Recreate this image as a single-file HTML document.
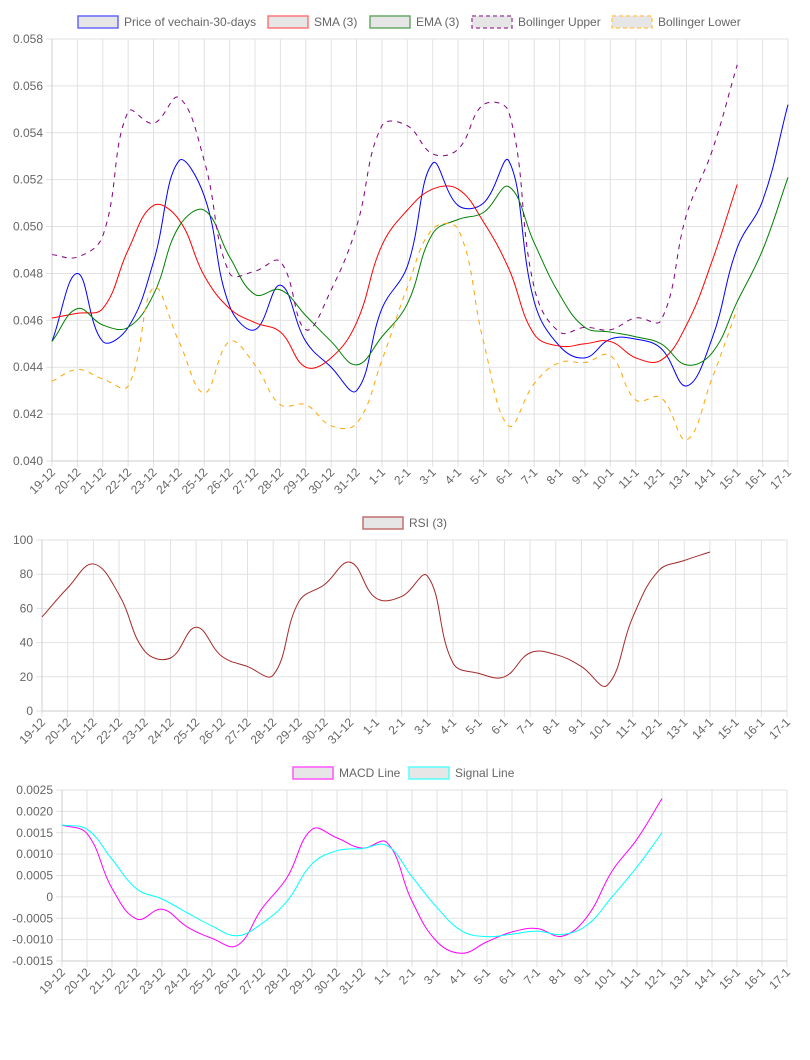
<!DOCTYPE html>
<html><head><meta charset="utf-8"><style>
body{margin:0;background:#fff;font-family:"Liberation Sans",sans-serif}
svg{display:block}
</style></head><body>
<svg id="svg" width="810" height="1060" xmlns="http://www.w3.org/2000/svg"></svg>
<script>
const categories=["19-12","20-12","21-12","22-12","23-12","24-12","25-12","26-12","27-12","28-12","29-12","30-12","31-12","1-1","2-1","3-1","4-1","5-1","6-1","7-1","8-1","9-1","10-1","11-1","12-1","13-1","14-1","15-1","16-1","17-1"];
const priceValues=[0.0451,0.0480,0.0451,0.0457,0.0485,0.0528,0.0513,0.0466,0.0456,0.0475,0.0451,0.0440,0.0430,0.0465,0.0483,0.0527,0.0509,0.0510,0.0528,0.0468,0.0449,0.0444,0.0452,0.0452,0.0448,0.0432,0.0452,0.0491,0.0511,0.0552];
const smaValues=[0.0461,0.0463,0.0465,0.0490,0.0509,0.0503,0.0479,0.0465,0.0459,0.0455,0.0440,0.0444,0.0459,0.0492,0.0507,0.0516,0.0516,0.0502,0.0482,0.0454,0.0449,0.0450,0.0451,0.0444,0.0443,0.0458,0.0485,0.0518,null,null];
const emaValues=[0.0451,0.0465,0.0458,0.0457,0.0471,0.0500,0.0507,0.0487,0.0471,0.0473,0.0462,0.0451,0.0441,0.0453,0.0467,0.0497,0.0503,0.0506,0.0517,0.0493,0.0471,0.0457,0.0455,0.0453,0.0450,0.0441,0.0446,0.0468,0.0490,0.0521];
const upperValues=[0.0488,0.0487,0.0496,0.0549,0.0544,0.0555,0.0528,0.0480,0.0481,0.0485,0.0456,0.0473,0.0500,0.0543,0.0543,0.0531,0.0533,0.0552,0.0549,0.0474,0.0455,0.0457,0.0456,0.0461,0.0460,0.0505,0.0532,0.0569,null,null];
const lowerValues=[0.0434,0.0439,0.0435,0.0432,0.0474,0.0451,0.0429,0.0451,0.0441,0.0424,0.0424,0.0415,0.0416,0.0443,0.0474,0.0499,0.0499,0.0451,0.0415,0.0433,0.0442,0.0442,0.0445,0.0426,0.0427,0.0409,0.0435,0.0465,null,null];
const rsiValues=[55,72,86,68,35,31,49,32,26,21,64,74,87,66,67,79,28,22,20,34,33,26,15,55,82,88,93,null,null,null];
const macdValues=[0.00168,0.00148,0.00020,-0.00052,-0.00029,-0.00070,-0.00097,-0.00114,-0.00027,0.00045,0.00158,0.00138,0.00114,0.00127,-0.00010,-0.00105,-0.00132,-0.00105,-0.00082,-0.00074,-0.00092,-0.00047,0.00060,0.00135,0.00230];
const signalValues=[0.00168,0.00158,0.00088,0.00018,-0.00005,-0.00037,-0.00068,-0.00091,-0.00062,-0.00010,0.00077,0.00108,0.00113,0.00120,0.00047,-0.00025,-0.00080,-0.00093,-0.00087,-0.00080,-0.00088,-0.00066,0.00000,0.00070,0.00150];
const ticks1=["0.040","0.042","0.044","0.046","0.048","0.050","0.052","0.054","0.056","0.058"];
const ticks2=["0","20","40","60","80","100"];
const ticks3=["-0.0015","-0.0010","-0.0005","0","0.0005","0.0010","0.0015","0.0020","0.0025"];

const NS="http://www.w3.org/2000/svg";
const svg=document.getElementById('svg');
function mk(tag,attrs,parent){const e=document.createElementNS(NS,tag);for(const k in attrs)e.setAttribute(k,attrs[k]);(parent||svg).appendChild(e);return e;}

function splinePath(pts,t){
  const cps=pts.map((cur,i)=>{
    const prev=pts[Math.max(0,i-1)],next=pts[Math.min(pts.length-1,i+1)];
    const d01=Math.hypot(cur[0]-prev[0],cur[1]-prev[1]);
    const d12=Math.hypot(next[0]-cur[0],next[1]-cur[1]);
    let s01=d01/(d01+d12),s12=d12/(d01+d12);
    if(isNaN(s01))s01=0; if(isNaN(s12))s12=0;
    const fa=t*s01,fb=t*s12;
    return {p:[cur[0]-fa*(next[0]-prev[0]),cur[1]-fa*(next[1]-prev[1])],n:[cur[0]+fb*(next[0]-prev[0]),cur[1]+fb*(next[1]-prev[1])]};
  });
  let d=`M${pts[0][0]},${pts[0][1]}`;
  for(let i=0;i<pts.length-1;i++){
    const c1=cps[i].n,c2=cps[i+1].p,p2=pts[i+1];
    d+=` C${c1[0]},${c1[1]} ${c2[0]},${c2[1]} ${p2[0]},${p2[1]}`;
  }
  return d;
}

function chart(name,L,R,T,B,min,max,ticks,series){
  const g=mk('g',{});
  
  
  const xs=i=>L+(R-L)*i/(categories.length-1);
  const ys=v=>B-(v-min)/(max-min)*(B-T);
  ticks.forEach(t=>{const y=ys(parseFloat(t));
    const l=mk('line',{x1:L-6,x2:R,y1:y,y2:y,stroke:'#e2e2e2','stroke-width':1},g);
    
    
    const tx=mk('text',{x:L-9,y:y+4,'text-anchor':'end','font-size':12,fill:'#666'},g);
    tx.textContent=t;
    
    
  });
  categories.forEach((c,i)=>{const x=xs(i);
    const l=mk('line',{x1:x,x2:x,y1:T,y2:B+6,stroke:'#e2e2e2','stroke-width':1},g);
    
    
    const tx=mk('text',{x:0,y:0,'text-anchor':'end','font-size':12,fill:'#666',transform:`translate(${x+4},${B+12}) rotate(-45)`},g);
    tx.textContent=c;
    
    
  });
  mk('line',{x1:L,x2:L,y1:T,y2:B,stroke:'#ccc'},g);
  mk('line',{x1:L,x2:R,y1:B,y2:B,stroke:'#ccc'},g);
  series.forEach(s=>{
    const pts=[];s.data.forEach((v,i)=>{if(v!==null)pts.push([xs(i),ys(v)]);});
    const p=mk('path',{d:splinePath(pts,0.4),fill:'none',stroke:s.color,'stroke-width':1,'stroke-dasharray':s.dash||''},g);
    
    
  });
}
function legend(items,y){
  const g=mk('g',{});
  
  
  items.forEach(it=>{
    const r=mk('rect',{x:it.x,y:y-6,width:40,height:12,fill:'#e6e6e6',stroke:it.color,'stroke-width':1.5,'stroke-dasharray':it.dash||''},g);
    
    
    const t=mk('text',{x:it.x+46,y:y+4,'font-size':12,fill:'#666'},g);
    t.textContent=it.label;
    
    
  });
}
legend([{x:78,color:'#6666ff',label:'Price of vechain-30-days'},{x:268,color:'#ff7777',label:'SMA (3)'},{x:370,color:'#66aa66',label:'EMA (3)'},{x:472,color:'#aa55aa',label:'Bollinger Upper',dash:'4,3'},{x:612,color:'#ffcc66',label:'Bollinger Lower',dash:'4,3'}],22);
chart('price-chart',52,788,39,461,0.040,0.058,ticks1,[
 {name:'price-line',data:priceValues,color:'blue'},
 {name:'sma-line',data:smaValues,color:'red'},
 {name:'ema-line',data:emaValues,color:'green'},
 {name:'bollinger-upper-line',data:upperValues,color:'purple',dash:'5,5'},
 {name:'bollinger-lower-line',data:lowerValues,color:'orange',dash:'5,5'}]);
legend([{x:363,color:'#c07070',label:'RSI (3)'}],523);
chart('rsi-chart',42,787,540,711,0,100,ticks2,[{name:'rsi-line',data:rsiValues,color:'brown'}]);
legend([{x:293,color:'#ff55ff',label:'MACD Line'},{x:409,color:'#55ffff',label:'Signal Line'}],773);
chart('macd-chart',62,787,790,961,-0.0015,0.0025,ticks3,[
 {name:'macd-line',data:macdValues,color:'magenta'},
 {name:'signal-line',data:signalValues,color:'cyan'}]);
</script>
</body></html>
